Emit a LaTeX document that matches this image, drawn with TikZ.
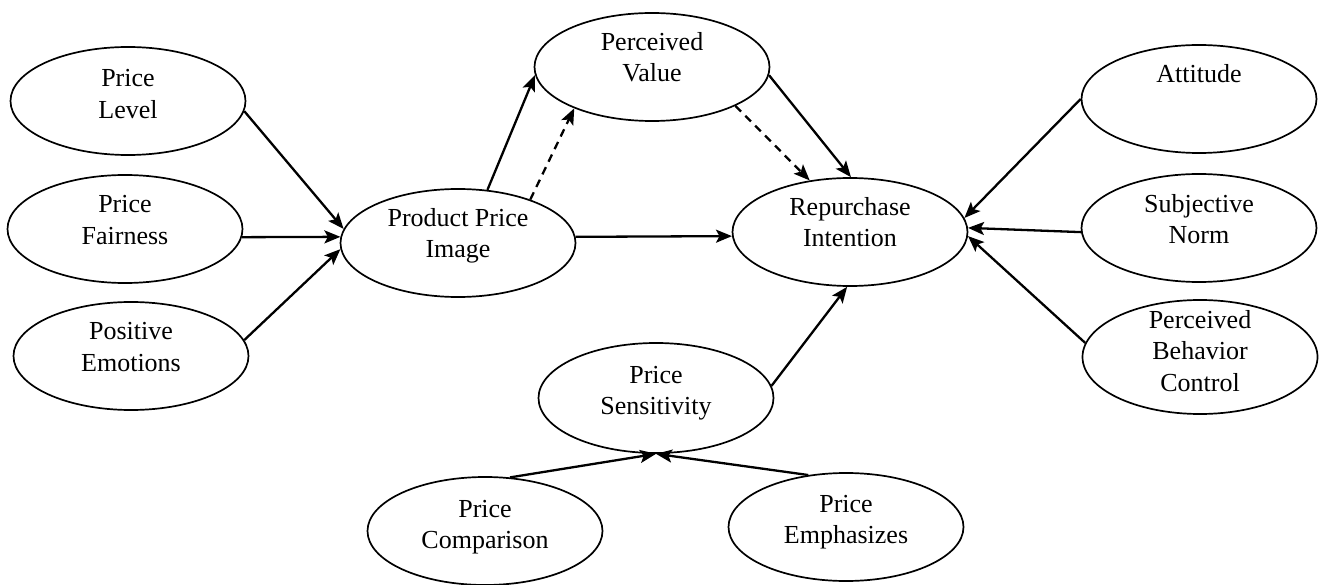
\documentclass[tikz,border=0pt]{standalone}
\usepackage{fontspec}
\setmainfont{Liberation Serif}
\usetikzlibrary{shapes.geometric, arrows.meta}

\begin{document}
\begin{tikzpicture}[x=1pt, y=-1pt, construct/.style={ellipse, draw, line width=1.7pt, minimum width=235pt, minimum height=108pt, inner sep=0pt}, txt/.style={align=center, font=\fontsize{26}{31.5}\selectfont}, link/.style={line width=2.3pt, -{Stealth[length=16pt, width=13pt, inset=3.5pt]}}, dashlink/.style={link, dash pattern=on 8pt off 6pt}]
  \useasboundingbox (0,0) rectangle (1322,585);
  % antecedents of the price image
  \node[construct, label={[txt, yshift=7pt]center:Price\\Level}] (pl) at (128,101) {};
  \node[construct, label={[txt, yshift=9pt]center:Price\\Fairness}] (pf) at (125,229) {};
  \node[construct, label={[txt, yshift=9pt]center:Positive\\Emotions}] (pe) at (131,356) {};
  % core model
  \node[construct, label={[txt, yshift=7pt]center:Product Price\\Image}] (ppi) at (458,243) {};
  \node[construct, label={[txt, yshift=10pt]center:Perceived\\Value}] (pv) at (652,67) {};
  \node[construct, label={[txt, yshift=10pt]center:Repurchase\\Intention}] (ri) at (850,232) {};
  % planned behaviour
  \node[construct, label={[txt, yshift=25pt]center:Attitude}] (att) at (1199,99) {};
  \node[construct, label={[txt, yshift=9pt]center:Subjective\\Norm}] (sn) at (1199,228) {};
  \node[construct, minimum height=114pt, label={[txt, yshift=6pt]center:Perceived\\Behavior\\Control}] (pbc) at (1200,357) {};
  % sensitivity
  \node[construct, minimum height=110pt, label={[txt, yshift=5pt]center:Price\\Sensitivity}] (ps) at (656,398) {};
  \node[construct, label={[txt, yshift=4pt]center:Price\\Comparison}] (pc) at (485,531) {};
  \node[construct, label={[txt, yshift=5pt]center:Price\\Emphasizes}] (pem) at (846,527) {};

  \draw[link] (pl.-5) -- (ppi.173);
  \draw[link] (pf.-4) -- (ppi.177);
  \draw[link] (pe.8) -- (ppi.-177);
  \draw[link] (ppi.61) -- (pv.184);
  \draw[dashlink] (ppi.31) -- (pv.208);
  \draw[link] (pv.-4) -- (ri.89);
  \draw[dashlink] (pv.-25) -- (ri.128);
  \draw[link] (ppi.3) -- (ri.182);
  \draw[link] (ps.6) -- (ri.-93);
  \draw[link] (att.west) -- (ri.7);
  \draw[link] (sn.182) -- (ri.2);
  \draw[link] (pbc.173) -- (ri.-2);
  \draw[link] (pc.65) -- (ps.south);
  \draw[link] (pem.126) -- (ps.south);
\end{tikzpicture}
\end{document}
